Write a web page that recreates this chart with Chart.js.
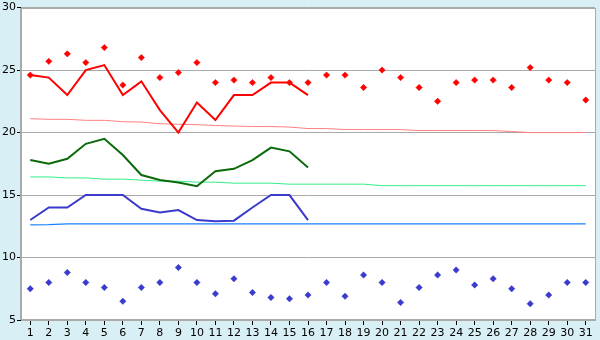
<!DOCTYPE html>
<html>
<head>
<meta charset="utf-8">
<script src="https://cdn.jsdelivr.net/npm/chart.js@4"></script>
<style>
  html, body { margin: 0; padding: 0; background: #d9eff6; }
  #chart { display: block; }
</style>
</head>
<body>
<canvas id="chart" width="600" height="340"></canvas>
<script>
// days of the month
const days = ['1','2','3','4','5','6','7','8','9','10','11','12','13','14','15','16',
  '17','18','19','20','21','22','23','24','25','26','27','28','29','30','31'];

// daily maxima / minima (markers)
const maxPoints = [24.6, 25.7, 26.3, 25.6, 26.8, 23.8, 26.0, 24.4, 24.8, 25.6, 24.0, 24.2, 24.0, 24.4, 24.0, 24.0,
  24.6, 24.6, 23.6, 25.0, 24.4, 23.6, 22.5, 24.0, 24.2, 24.2, 23.6, 25.2, 24.2, 24.0, 22.6];
const minPoints = [7.5, 8.0, 8.8, 8.0, 7.6, 6.5, 7.6, 8.0, 9.2, 8.0, 7.1, 8.3, 7.2, 6.8, 6.7, 7.0,
  8.0, 6.9, 8.6, 8.0, 6.4, 7.6, 8.6, 9.0, 7.8, 8.3, 7.5, 6.3, 7.0, 8.0, 8.0];

// lines (first 16 days)
const maxLine = [24.6, 24.4, 23.0, 25.0, 25.4, 23.0, 24.1, 21.8, 20.0, 22.4, 21.0, 23.0, 23.0, 24.0, 24.0, 23.0];
const meanLine = [17.8, 17.5, 17.9, 19.1, 19.5, 18.2, 16.6, 16.2, 16.0, 15.7, 16.9, 17.1, 17.8, 18.8, 18.5, 17.2];
const minLine = [13.0, 14.0, 14.0, 15.0, 15.0, 15.0, 13.9, 13.6, 13.8, 13.0, 12.9, 12.95, 14.0, 15.0, 15.0, 13.0];

// normals
const maxNormal = [21.11, 21.06, 21.06, 20.98, 20.98, 20.87, 20.84, 20.71, 20.66, 20.63, 20.56, 20.52, 20.48, 20.48, 20.44, 20.32,
  20.32, 20.24, 20.24, 20.24, 20.24, 20.16, 20.16, 20.16, 20.16, 20.16, 20.08, 20.0, 20.0, 20.0, 20.0];
const meanNormal = [16.45, 16.45, 16.37, 16.37, 16.27, 16.27, 16.19, 16.11, 16.11, 16.03, 16.03, 15.95, 15.95, 15.95, 15.87, 15.87,
  15.87, 15.87, 15.87, 15.75, 15.75, 15.75, 15.75, 15.75, 15.75, 15.75, 15.75, 15.75, 15.75, 15.75, 15.75];
const minNormal = [12.62, 12.63, 12.7, 12.7, 12.7, 12.7, 12.7, 12.7, 12.7, 12.7, 12.7, 12.7, 12.7, 12.7, 12.7, 12.7,
  12.7, 12.7, 12.7, 12.7, 12.7, 12.7, 12.7, 12.7, 12.7, 12.7, 12.7, 12.7, 12.7, 12.7, 12.7];

const yTicks = [5, 10, 15, 20, 25, 30];

// white plot area + grey frame
const plotFrame = {
  id: 'plotFrame',
  beforeDraw(chart) {
    const { ctx, chartArea: a } = chart;
    ctx.save();
    ctx.fillStyle = '#ffffff';
    ctx.fillRect(a.left, a.top, a.right - a.left, a.bottom - a.top);
    ctx.restore();
  },
  afterDraw(chart) {
    const { ctx, chartArea: a } = chart;
    ctx.save();
    ctx.strokeStyle = '#aaaaaa';
    ctx.lineWidth = 1;
    ctx.strokeRect(Math.round(a.left) - 0.5, Math.round(a.top) + 0.5,
      Math.round(a.right - a.left) + 1, Math.round(a.bottom - a.top) - 1);
    ctx.restore();
  }
};

function lineSet(data, color, width, order) {
  return {
    type: 'line', data, borderColor: color, backgroundColor: color,
    borderWidth: width, pointRadius: 0, tension: 0, fill: false, order
  };
}

function markerSet(data, color) {
  return {
    type: 'line', data, showLine: false, borderColor: color, backgroundColor: color,
    pointStyle: 'rectRot', pointRadius: 3.2, pointBorderWidth: 0.5, order: 0
  };
}

new Chart(document.getElementById('chart'), {
  type: 'line',
  data: {
    labels: days,
    datasets: [
      lineSet(maxNormal, '#ff8080', 1, 5),
      lineSet(meanNormal, '#33ee88', 1, 5),
      lineSet(minNormal, '#1a80ff', 1.3, 5),
      lineSet(maxLine, '#ff0000', 2, 2),
      lineSet(meanLine, '#0a6a0a', 2, 2),
      lineSet(minLine, '#3a3acc', 2, 2),
      markerSet(maxPoints, '#ff0000'),
      markerSet(minPoints, '#3a3acc')
    ]
  },
  options: {
    responsive: false,
    animation: false,
    layout: { padding: { top: 5, right: 5, left: 0, bottom: 0 } },
    plugins: { legend: { display: false }, tooltip: { enabled: false } },
    scales: {
      x: {
        offset: true,
        afterFit(scale) { scale.height = 20; },
        grid: { drawOnChartArea: false, offset: false, tickLength: 5, tickColor: '#000000', tickWidth: 1 },
        border: { color: '#aaaaaa' },
        ticks: { color: '#000000', padding: 2, autoSkip: false, maxRotation: 0,
          font: { family: 'DejaVu Sans', size: 11 } }
      },
      y: {
        min: 5, max: 30,
        afterFit(scale) { scale.width = 21; },
        afterBuildTicks(scale) { scale.ticks = yTicks.map(v => ({ value: v })); },
        grid: { color: '#aaaaaa', tickLength: 4, tickColor: '#000000' },
        border: { color: '#aaaaaa' },
        ticks: { color: '#000000', padding: 1,
          font: { family: 'DejaVu Sans', size: 11 } }
      }
    }
  },
  plugins: [plotFrame]
});
</script>
</body>
</html>
